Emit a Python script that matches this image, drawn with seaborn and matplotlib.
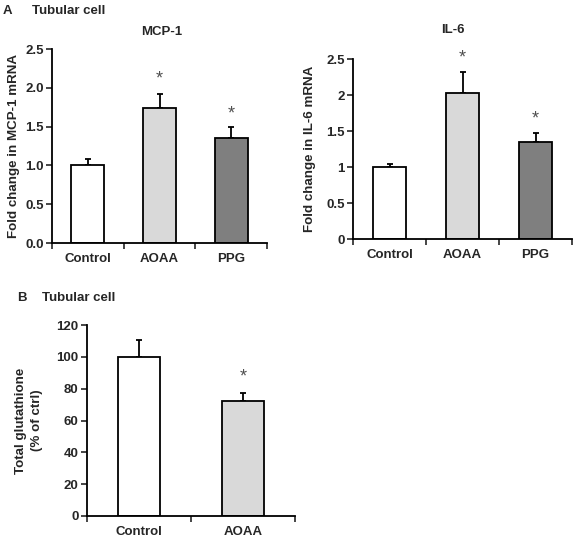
import matplotlib
matplotlib.use("Agg")
import matplotlib.pyplot as plt
import seaborn as sns
import pandas as pd
from matplotlib.ticker import FixedLocator, FuncFormatter

# === Data ===
groups = ["Control", "AOAA", "PPG"]
mcp1_mean = [1.00, 1.74, 1.35]
mcp1_err = [0.08, 0.18, 0.14]
mcp1_star = [None, 2.19, 1.75]

il6_mean = [1.00, 2.03, 1.35]
il6_err = [0.04, 0.29, 0.12]
il6_star = [None, 2.60, 1.76]

gsh_groups = ["Control", "AOAA"]
gsh_mean = [100.0, 72.5]
gsh_err = [10.5, 4.5]
gsh_star = [None, 91.5]

bar_colors = ["#ffffff", "#d9d9d9", "#7f7f7f"]

sns.set_style("white")
plt.rcParams["font.family"] = ["Liberation Sans", "DejaVu Sans"]
plt.rcParams["font.weight"] = "bold"
plt.rcParams["axes.labelweight"] = "bold"

fig = plt.figure(figsize=(5.74, 5.41), dpi=100)
W, H = 574, 541
STAR_FS = 13


def axes_px(left, right, top, bottom):
    return fig.add_axes([left / W, 1 - bottom / H, (right - left) / W, (bottom - top) / H])


def panel(ax, cats, means, errs, stars, ylim, yticks, fmt, width, ylabel):
    df = pd.DataFrame({"group": cats, "value": means})
    sns.barplot(data=df, x="group", y="value", hue="group", palette=bar_colors[:len(cats)],
                edgecolor="black", linewidth=1.3, width=width, legend=False, ax=ax, zorder=2)
    xs = list(range(len(cats)))
    ax.errorbar(xs, means, yerr=[[0] * len(cats), errs], fmt="none", ecolor="black",
                elinewidth=1.3, capsize=2.2, capthick=1.3, zorder=1)
    for x, s in zip(xs, stars):
        if s is not None:
            # place the visible asterisk glyph centre at the value s
            ax.annotate("*", xy=(x, s), xytext=(0, -0.6 * STAR_FS), textcoords="offset points",
                        ha="center", va="baseline", fontsize=STAR_FS, color="#505050",
                        fontweight="normal", annotation_clip=False)
    ax.set_xlim(-0.5, len(cats) - 0.5)
    ax.set_ylim(*ylim)
    ax.yaxis.set_major_locator(FixedLocator(yticks))
    ax.yaxis.set_major_formatter(FuncFormatter(fmt))
    ax.xaxis.set_minor_locator(FixedLocator([i + 0.5 for i in range(-1, len(cats))]))
    ax.tick_params(axis="x", which="major", length=0, pad=7, labelsize=9.5)
    ax.tick_params(axis="x", which="minor", length=4, width=1.2, direction="out", bottom=True)
    ax.tick_params(axis="y", length=4, width=1.2, direction="out", left=True, labelsize=9.5, pad=2)
    for lab in ax.get_xticklabels() + ax.get_yticklabels():
        lab.set_fontweight("bold")
    sns.despine(ax=ax)
    for sp in ["left", "bottom"]:
        ax.spines[sp].set_linewidth(1.3)
        ax.spines[sp].set_color("black")
    ax.set_xlabel("")
    ax.set_ylabel(ylabel, fontsize=9.6, fontweight="bold", linespacing=1.4)


ax1 = axes_px(52, 267, 49, 243)
panel(ax1, groups, mcp1_mean, mcp1_err, mcp1_star, (0, 2.5), [0, 0.5, 1.0, 1.5, 2.0, 2.5],
      lambda v, p: f"{v:.1f}", 0.46, "Fold change in MCP-1 mRNA")
ax1.yaxis.set_label_coords(-32 / 215, 0.5)

ax2 = axes_px(353, 572, 59, 239)
panel(ax2, groups, il6_mean, il6_err, il6_star, (0, 2.5), [0, 0.5, 1, 1.5, 2, 2.5],
      lambda v, p: f"{v:g}", 0.45, "Fold change in IL-6 mRNA")
ax2.yaxis.set_label_coords(-37 / 219, 0.5)

ax3 = axes_px(87, 295, 325, 516)
panel(ax3, gsh_groups, gsh_mean, gsh_err, gsh_star, (0, 120), [0, 20, 40, 60, 80, 100, 120],
      lambda v, p: f"{v:.0f}", 0.41, "Total glutathione\n(% of ctrl)")
ax3.yaxis.set_label_coords(-44 / 208, 0.5)

fig.text(3 / W, 1 - 11 / H, "A", fontsize=9.5, fontweight="bold", va="center")
fig.text(32 / W, 1 - 11 / H, "Tubular cell", fontsize=9.5, fontweight="bold", va="center")
fig.text(17 / W, 1 - 298 / H, "B", fontsize=9.5, fontweight="bold", va="center")
fig.text(42 / W, 1 - 298 / H, "Tubular cell", fontsize=9.5, fontweight="bold", va="center")
fig.text(162 / W, 1 - 32 / H, "MCP-1", fontsize=9.5, fontweight="bold", ha="center", va="center")
fig.text(453 / W, 1 - 30 / H, "IL-6", fontsize=9.5, fontweight="bold", ha="center", va="center")

fig.savefig("out.png", dpi=100, facecolor="white")
